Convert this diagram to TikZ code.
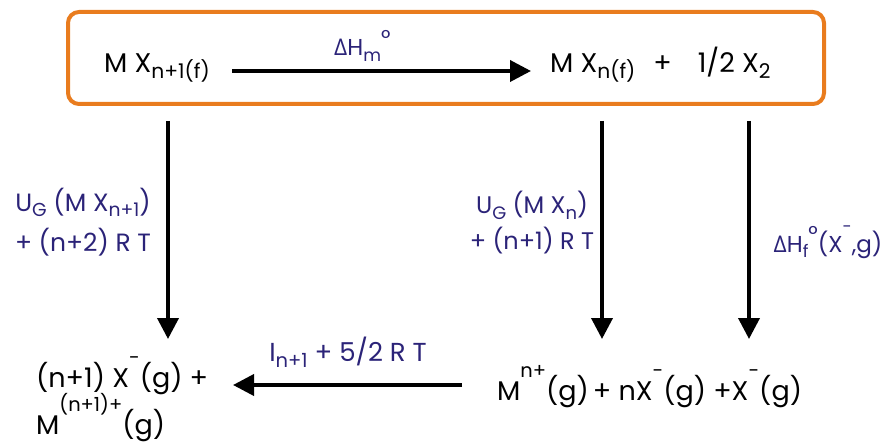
\documentclass[tikz,border=0pt]{standalone}
\usepackage{fontspec}
\usepackage{graphicx}
\setmainfont{Poppins}
\newfontfamily\grk{Open Sans}
\usetikzlibrary{arrows.meta}
\definecolor{boxorange}{HTML}{E97C1E}
\definecolor{labelblue}{HTML}{2B2378}
% sub/superscripts scaled to the running font
\newcommand{\lo}[1]{\raisebox{-0.22em}{\scalebox{0.75}{#1}}}
\newcommand{\hi}[1]{\raisebox{0.85em}{\scalebox{0.72}{#1}}}
\newcommand{\dH}{{\grk Δ}H}

\begin{document}
\begin{tikzpicture}[x=1pt, y=-1pt, inner sep=0pt,
    arr/.style={line width=3.8pt, -{Triangle[width=21pt,length=21pt]}},
    species/.style={font=\fontsize{27}{32}\selectfont, text=black},
    lbl/.style={text=labelblue, align=center}]
    \useasboundingbox (0,0) rectangle (888,446);
    % Reaction box
    \draw[boxorange, line width=4pt, rounded corners=11pt] (68,12) rectangle (824,104);
    % Species
    \node[species, anchor=base west] (mxa) at (104,73) {M X\lo{n+1(f)}};
    \node[species, anchor=base west] (prod) at (550,73) {M X\lo{n(f)}\hspace{18pt}+\hspace{26pt}1/2 X\lo{2}};
    \node[species, anchor=base west] (lhs) at (36,387) {(n+1) X\hi{-}(g) +};
    \node[species, anchor=base west] (lhsb) at (36,434) {M\hi{(n+1)+}(g)};
    \node[species, anchor=base west] (rhs) at (497,400) {M\hi{n+}(g)\hspace{4pt}+ nX\hi{-}(g) +X\hi{-}(g)};
    % Arrow end points
    \coordinate (ta) at (232,71);  \coordinate (tb) at (531,71);
    \coordinate (ua) at (168,121); \coordinate (da) at (168,339);
    \coordinate (ub) at (602,121); \coordinate (db) at (602,339);
    \coordinate (uc) at (749,121); \coordinate (dc) at (749,339);
    \coordinate (ba) at (462,385); \coordinate (bb) at (233,385);
    % Arrows
    \draw[arr] (ta) -- (tb);
    \draw[arr] (ua) -- (da);
    \draw[arr] (ub) -- (db);
    \draw[arr] (uc) -- (dc);
    \draw[arr] (ba) -- (bb);
    % Labels
    \node[lbl, font=\fontsize{23}{26}\selectfont, anchor=base west] (dhm) at (334,56) {\dH\lo{m}\raisebox{0.4em}{°}};
    \node[lbl, font=\fontsize{25}{40}\selectfont] (uga) at (83,222) {U\lo{G} (M X\lo{n+1})\\+ (n+2) R T};
    \node[lbl, font=\fontsize{24}{36}\selectfont] (ugb) at (532,223) {U\lo{G} (M X\lo{n})\\+ (n+1) R T};
    \node[lbl, font=\fontsize{23}{26}\selectfont] (dhf) at (828,242) {\dH\lo{f}\raisebox{0.4em}{°}(X\hi{-},g)};
    \node[lbl, font=\fontsize{26}{30}\selectfont] (ion) at (348,352) {I\lo{n+1} + 5/2 R T};
\end{tikzpicture}
\end{document}
